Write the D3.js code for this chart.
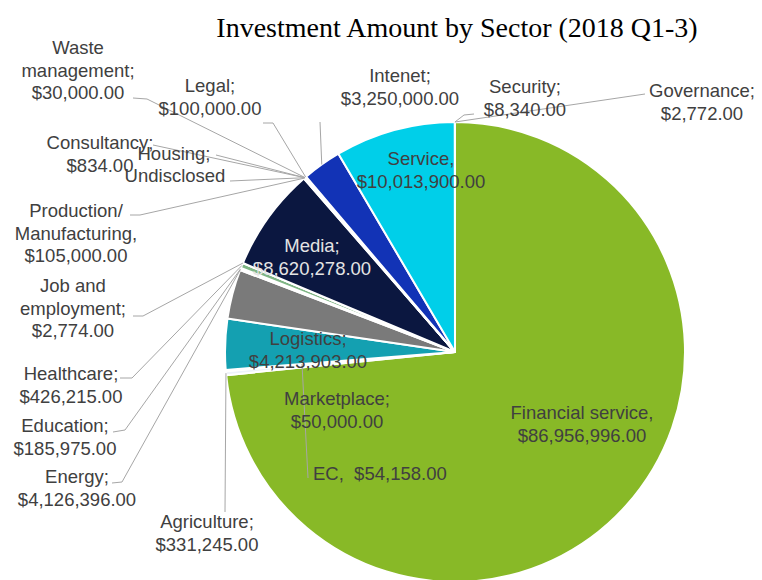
<!DOCTYPE html>
<html>
<head>
<meta charset="utf-8">
<script src="https://cdn.jsdelivr.net/npm/d3@7"></script>
<style>
  html, body { margin: 0; padding: 0; background: #ffffff; }
  svg { display: block; }
  .lbl { font-family: "Liberation Sans", Arial, sans-serif; font-size: 18.5px; fill: #404040; white-space: pre; }
  .title { font-family: "Liberation Serif", "Times New Roman", serif; font-size: 28px; fill: #000000; }
</style>
</head>
<body>
<svg id="chart" width="762" height="580"></svg>
<script>
// Sectors in drawing order (clockwise from 12 o'clock)
const sectors = [
  "Financial service", "Agriculture", "EC", "Marketplace", "Logistics", "Energy",
  "Education", "Healthcare", "Job and employment", "Media", "Production/Manufacturing",
  "Consultancy", "Housing", "Undisclosed", "Waste management", "Legal",
  "Intenet", "Service", "Security", "Governance"
];

// Investment amounts (USD); null where the amount is not disclosed
const amounts = [
  86956996, 331245, 54158, 50000, 4213903, 4126396,
  185975, 426215, 2774, 8620278, 105000,
  834, null, null, 30000, 100000,
  3250000, 10013900, 8340, 2772
];

// Name part of each data label, line by line
const nameLines = [
  ["Financial service,"], ["Agriculture;"], ["EC,  "], ["Marketplace;"], ["Logistics;"], ["Energy;"],
  ["Education;"], ["Healthcare;"], ["Job and", "employment;"], ["Media;"], ["Production/", "Manufacturing,"],
  ["Consultancy;"], ["Housing;"], ["Undisclosed"], ["Waste", "management;"], ["Legal;"],
  ["Intenet;"], ["Service,"], ["Security;"], ["Governance;"]
];

const sliceColors = [
  "#88b927", "#eef3fa", "#dce8f5", "#ffffff", "#14a0b1", "#7a7a7a",
  "#ffffff", "#7fb585", "#ffffff", "#0b1740", "#ffffff",
  "#ffffff", "#ffffff", "#ffffff", "#ffffff", "#2a62d4",
  "#1233b6", "#00cfe9", "#ffffff", "#ffffff"
];

const title = "Investment Amount by Sector (2018 Q1-3)";

// ---- layout ----
const width = 762, height = 580;
const cx = 455, cy = 352, radius = 230;
const lineGap = 22.5;

// label placement: x/y = anchor of first baseline, t = where along the slice the leader attaches,
// lead = label-side points of the leader line
const labelLayout = {
  "Financial service":        { x: 582, y: 419 },
  "Agriculture":              { x: 207, y: 528, t: 0.5, lead: [[225, 512]] },
  "EC":                       { x: 313, y: 480, anchor: "start", path: [[308, 478], [302, 364]] },
  "Marketplace":              { x: 337, y: 405 },
  "Logistics":                { x: 308, y: 345 },
  "Energy":                   { x: 77,  y: 483, t: 1, lead: [[112, 483], [122, 482]] },
  "Education":                { x: 65,  y: 432, t: 0.5, lead: [[113, 432], [125, 430]] },
  "Healthcare":               { x: 71,  y: 380, t: 0.5, lead: [[120, 378], [132, 378]] },
  "Job and employment":       { x: 73,  y: 292, t: 0.5, lead: [[133, 316], [143, 316]] },
  "Media":                    { x: 312, y: 252, color: "#e4e4e4" },
  "Production/Manufacturing": { x: 76,  y: 217, t: 0.5, lead: [[130, 215], [140, 215]] },
  "Consultancy":              { x: 100, y: 149, t: 0.5, lead: [[153, 145]] },
  "Housing":                  { x: 174, y: 160, t: 0.5, lead: [[216, 155]] },
  "Undisclosed":              { x: 175, y: 182, t: 0.5, lead: [[230, 181]] },
  "Waste management":         { x: 78,  y: 54,  t: 0.5, lead: [[133, 98], [147, 99]] },
  "Legal":                    { x: 210, y: 92,  t: 0.5, lead: [[263, 123], [273, 123]] },
  "Intenet":                  { x: 400, y: 82,  t: 0.5, lead: [[320, 122]] },
  "Service":                  { x: 421, y: 165 },
  "Security":                 { x: 525, y: 93,  t: 0.5, lead: [[474, 114], [464, 115]] },
  "Governance":               { x: 702, y: 97,  t: 0.5, lead: [[645, 94]] }
};

const fmt = d3.format("$,.2f");
const rows = sectors.map((name, i) => ({
  name, amount: amounts[i], lines: nameLines[i], color: sliceColors[i]
}));

const svg = d3.select("#chart");

svg.append("text")
  .attr("class", "title")
  .attr("x", 457).attr("y", 37)
  .attr("text-anchor", "middle")
  .text(title);

const pie = d3.pie().sort(null).value(d => d.amount || 0).startAngle(0).endAngle(2 * Math.PI);
const arcs = pie(rows);
const arc = d3.arc().innerRadius(0).outerRadius(radius);

const g = svg.append("g").attr("transform", `translate(${cx},${cy})`);

g.selectAll("path.slice")
  .data(arcs)
  .join("path")
  .attr("class", "slice")
  .attr("d", arc)
  .attr("fill", d => d.data.color)
  .attr("stroke", "#ffffff")
  .attr("stroke-width", 2)
  .attr("stroke-linejoin", "round");

// point on the pie rim at angle a (radians clockwise from 12 o'clock)
const rim = a => [cx + radius * Math.sin(a), cy - radius * Math.cos(a)];

// leader lines
const line = d3.line();
const leaders = svg.append("g")
  .attr("fill", "none")
  .attr("stroke", "#a6a6a6")
  .attr("stroke-width", 1);

arcs.forEach(d => {
  const L = labelLayout[d.data.name];
  if (L.path) {
    leaders.append("path").attr("d", line(L.path));
  } else if (L.lead) {
    const a = d.startAngle + (d.endAngle - d.startAngle) * L.t;
    leaders.append("path").attr("d", line([...L.lead, rim(a)]));
  }
});

// data labels
const labels = svg.append("g");
arcs.forEach(d => {
  const L = labelLayout[d.data.name];
  const valueText = d.data.amount == null ? null : fmt(d.data.amount);
  let textLines;
  if (L.anchor === "start") {
    textLines = [d.data.lines.join("") + valueText];
  } else {
    textLines = valueText == null ? d.data.lines.slice() : [...d.data.lines, valueText];
  }
  const t = labels.append("text")
    .attr("class", "lbl")
    .attr("text-anchor", L.anchor || "middle")
    .style("fill", L.color || null);
  textLines.forEach((s, k) => {
    t.append("tspan")
      .attr("x", L.x)
      .attr("y", L.y + k * lineGap)
      .text(s);
  });
});
</script>
</body>
</html>
